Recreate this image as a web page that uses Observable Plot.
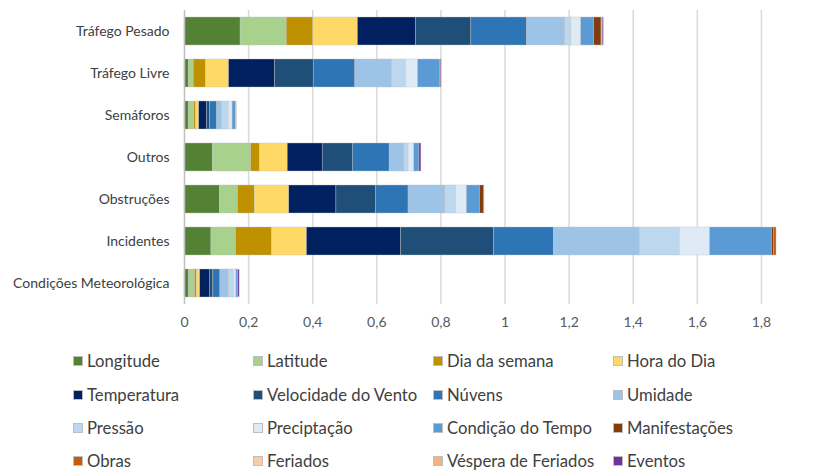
<!DOCTYPE html>
<html><head><meta charset="utf-8">
<script src="https://cdn.jsdelivr.net/npm/d3@7"></script>
<script src="https://cdn.jsdelivr.net/npm/@observablehq/plot@0.6"></script>
<style>
body{margin:0;background:#fff;font-family:Lato,"Open Sans",sans-serif;}
#chart{width:819px;height:340px;}
#legend{position:relative;width:819px;height:132px;}
.li{position:absolute;font-size:16.7px;color:#404040;display:flex;align-items:center;white-space:nowrap;height:20px;}
.sw{width:10px;height:10px;margin-right:4px;box-sizing:border-box;border:0.5px solid #bfbfbf;}
</style></head>
<body>
<div id="chart"></div>
<div id="legend"></div>
<script>
const categories = ["Tráfego Pesado","Tráfego Livre","Semáforos","Outros","Obstruções","Incidentes","Condições Meteorológica"];
const seriesNames = ["Longitude","Latitude","Dia da semana","Hora do Dia","Temperatura","Velocidade do Vento","Núvens","Umidade","Pressão","Preciptação","Condição do Tempo","Manifestações","Obras","Feriados","Véspera de Feriados","Eventos"];
const seriesColors = ["#548235","#A9D18E","#BF9000","#FFD966","#002060","#1F4E79","#2E75B6","#9DC3E6","#BDD7EE","#DEEBF7","#5B9BD5","#843C0C","#C55A11","#F8CBAD","#F4B183","#7030A0"];
const longitude = [0.175,0.013,0.013,0.088,0.110,0.084,0.014];
const latitude = [0.144,0.016,0.018,0.120,0.057,0.077,0.019];
const diaSemana = [0.083,0.038,0.005,0.027,0.052,0.112,0.005];
const horaDia = [0.139,0.072,0.010,0.087,0.108,0.109,0.011];
const temperatura = [0.182,0.144,0.024,0.109,0.147,0.293,0.030];
const velocidadeVento = [0.172,0.120,0.010,0.094,0.123,0.291,0.011];
const nuvens = [0.174,0.130,0.022,0.115,0.102,0.186,0.022];
const umidade = [0.119,0.115,0.015,0.046,0.115,0.269,0.026];
const pressao = [0.019,0.043,0.021,0.013,0.033,0.124,0.017];
const preciptacao = [0.031,0.038,0.012,0.018,0.034,0.095,0.007];
const condicaoTempo = [0.040,0.069,0.010,0.016,0.041,0.193,0.006];
const manifestacoes = [0.023,0.002,0.000,0.000,0.012,0.007,0.000];
const obras = [0.002,0.000,0.000,0.000,0.002,0.007,0.000];
const feriados = [0.001,0.000,0.002,0.000,0.000,0.000,0.000];
const vesperaFeriados = [0.001,0.000,0.001,0.000,0.000,0.000,0.000];
const eventos = [0.003,0.002,0.000,0.006,0.000,0.000,0.004];
const xTicks = [0,0.2,0.4,0.6,0.8,1,1.2,1.4,1.6,1.8];

const seriesValues = [longitude,latitude,diaSemana,horaDia,temperatura,velocidadeVento,nuvens,umidade,pressao,preciptacao,condicaoTempo,manifestacoes,obras,feriados,vesperaFeriados,eventos];
const data = [];
categories.forEach((c,ci)=>{
  seriesNames.forEach((s,si)=>{
    data.push({cat:c, series:s, value:seriesValues[si][ci]});
  });
});

const plot = Plot.plot({
  width:819, height:340,
  marginLeft:184, marginRight:26, marginTop:10, marginBottom:36,
  style:{fontFamily:"Lato, 'Open Sans', sans-serif", fontSize:"14px", color:"#595959", background:"#fff"},
  x:{domain:[0,1.9], ticks:xTicks, tickFormat:d=>String(d).replace(".",","), tickSize:0, tickPadding:14, label:null, grid:false},
  y:{domain:categories, paddingInner:0.33, paddingOuter:0.165, label:null, tickSize:0, tickPadding:15},
  color:{domain:seriesNames, range:seriesColors},
  marks:[
    Plot.ruleX(xTicks.slice(1), {stroke:"#d9d9d9", strokeWidth:1.5}),
    Plot.barX(data, {y:"cat", x:"value", fill:"series", stroke:"#c0c0c0", strokeWidth:0.4, order:seriesNames}),
    Plot.ruleX([0], {stroke:"#bfbfbf", strokeWidth:1.5}),
    Plot.axisY({tickSize:0, tickPadding:15, fontSize:14, fill:"#404040"}),
    Plot.axisX({ticks:xTicks, tickFormat:d=>String(d).replace(".",","), tickSize:0, tickPadding:13, fontSize:14, fill:"#595959"})
  ]
});
document.getElementById("chart").appendChild(plot);

const legend = document.getElementById("legend");
const colX = [73,253,433,613];
const rowY = [11,45,78,111];
seriesNames.forEach((s,i)=>{
  const d = document.createElement("div");
  d.className="li";
  d.style.left = colX[i%4]+"px";
  d.style.top = rowY[Math.floor(i/4)]+"px";
  d.innerHTML = `<span class="sw" style="background:${seriesColors[i]}"></span><span>${s}</span>`;
  legend.appendChild(d);
});
</script>
</body></html>
